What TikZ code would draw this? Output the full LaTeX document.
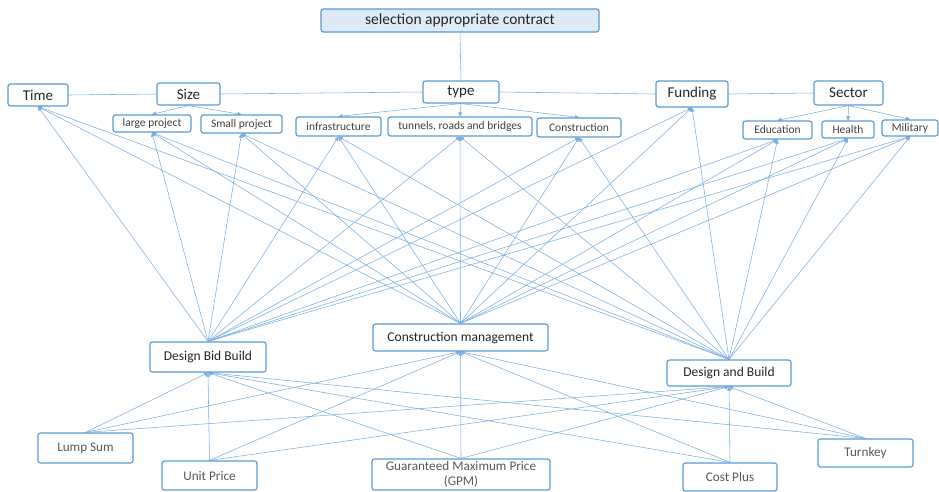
\documentclass[tikz,border=0pt]{standalone}
\usepackage{fontspec}
\setmainfont{Carlito}
\usetikzlibrary{arrows.meta,backgrounds}
\definecolor{lineblue}{HTML}{7AAEE0}
\definecolor{boxblue}{HTML}{5B9BD5}
\definecolor{titlefill}{HTML}{DEEBF7}
\definecolor{txtdark}{HTML}{262626}
\definecolor{txtgray}{HTML}{404040}
\definecolor{txtlight}{HTML}{595959}
\tikzset{
  box/.style={draw=boxblue, line width=1.2pt, rounded corners=2.5pt, fill=white, inner sep=0pt, align=center},
  titlebox/.style={box, fill=titlefill, text=txtdark, font=\fontsize{15.5}{18}\selectfont},
  critbox/.style={box, text=txtdark, font=\fontsize{15}{18}\selectfont},
  subbox/.style={box, text=txtgray, font=\fontsize{11.5}{14}\selectfont},
  methbox/.style={box, text=txtdark, font=\fontsize{13.5}{16}\selectfont},
  contbox/.style={box, text=txtlight, font=\fontsize{13.2}{16}\selectfont},
  conn/.style={draw=lineblue, line width=0.55pt},
  arr/.style={conn, -{Triangle[length=4pt,width=4pt]}}
}
\begin{document}
\begin{tikzpicture}[x=1pt,y=-1pt]
\useasboundingbox (0,0) rectangle (939,491);
% title
\node[titlebox, minimum width=278pt, minimum height=23pt] (title) at (460,20.5) {selection appropriate contract};
% criteria
\node[critbox, minimum width=60pt, minimum height=22pt] (time) at (38,95) {Time};
\node[critbox, minimum width=63pt, minimum height=22pt] (size) at (188.5,94) {Size};
\node[critbox, minimum width=76pt, minimum height=22pt] (type) at (461,92) {type};
\node[critbox, minimum width=72pt, minimum height=26pt] (funding) at (692,94) {Funding};
\node[critbox, minimum width=69pt, minimum height=24pt] (sector) at (848.5,93) {Sector};
% sub criteria
\node[subbox, minimum width=78pt, minimum height=17pt] (large) at (152,123.5) {large project};
\node[subbox, minimum width=81pt, minimum height=18pt] (small) at (241.5,124) {Small project};
\node[subbox, minimum width=85pt, minimum height=19pt] (infra) at (338.5,126.5) {infrastructure};
\node[subbox, minimum width=144pt, minimum height=19pt] (tunnels) at (460,126.5) {tunnels, roads and bridges};
\node[subbox, minimum width=84pt, minimum height=19pt] (constr) at (579,127.5) {Construction};
\node[subbox, minimum width=69pt, minimum height=18pt] (edu) at (777.5,130) {Education};
\node[subbox, minimum width=52pt, minimum height=17pt] (health) at (848,129.5) {Health};
\node[subbox, minimum width=56pt, minimum height=16pt] (military) at (910,128) {Military};
% methods
\node[methbox, minimum width=116pt, minimum height=30pt] (dbb) at (208,357) {Design Bid Build};
\node[methbox, minimum width=175pt, minimum height=27pt] (cm) at (460.5,337.5) {Construction management};
\node[methbox, minimum width=124pt, minimum height=26pt] (db) at (729,373) {Design and Build};
% contracts
\node[contbox, minimum width=95pt, minimum height=30pt] (lump) at (85.5,448) {Lump Sum};
\node[contbox, minimum width=95pt, minimum height=29pt] (unit) at (209.5,475.5) {Unit Price};
\node[contbox, minimum width=178pt, minimum height=31pt, font=\fontsize{13.2}{16.5}\selectfont] (gmp) at (461,474.5) {Guaranteed Maximum Price\\[-1pt](GPM)};
\node[contbox, minimum width=94pt, minimum height=28pt] (cost) at (730,477) {Cost Plus};
\node[contbox, minimum width=95pt, minimum height=28pt] (turnkey) at (865.5,453) {Turnkey};
\begin{pgfonlayer}{background}
\draw[conn] (title.south) -- (type.north);
\draw[conn] (time.east) -- (size.west);
\draw[conn] (size.east) -- (type.west);
\draw[conn] (type.east) -- (funding.west);
\draw[conn] (funding.east) -- (sector.west);
\draw[arr] (size.south) -- (large.north);
\draw[arr] (size.south) -- (small.north);
\draw[arr] (type.south) -- (infra.north);
\draw[arr] (type.south) -- (tunnels.north);
\draw[arr] (type.south) -- (constr.north);
\draw[arr] (sector.south) -- (edu.north);
\draw[arr] (sector.south) -- (health.north);
\draw[arr] (sector.south) -- (military.north);
\foreach \m in {dbb,cm,db}{
  \foreach \c in {time,large,small,infra,tunnels,constr,funding,edu,health,military}{
    \draw[arr] (\m.north) -- (\c.south);
  }
  \foreach \k in {lump,unit,gmp,cost,turnkey}{
    \draw[arr] (\k.north) -- (\m.south);
  }
}
\end{pgfonlayer}
\end{tikzpicture}
\end{document}
